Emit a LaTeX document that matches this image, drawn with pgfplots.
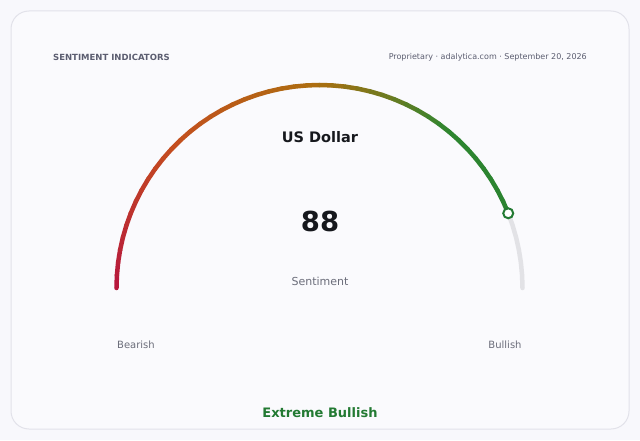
\documentclass[border=0pt]{standalone}
\usepackage{pgfplots}
\pgfplotsset{compat=1.18}
\usepackage{pgfplotstable}
\usepgfplotslibrary{polar}
\usepackage{fontspec}
\setmainfont{DejaVu Sans}

\definecolor{pagebg}{HTML}{F8F8FC}
\definecolor{cardbg}{HTML}{FAFAFD}
\definecolor{cardline}{HTML}{E2E2EA}
\definecolor{muted}{HTML}{5B5D70}
\definecolor{soft}{HTML}{6B6D7A}
\definecolor{ink}{HTML}{16181D}
\definecolor{track}{HTML}{E2E2E6}
\definecolor{bull}{HTML}{237A33}

% gauge reading: value 88 of 100, angle = 180 - 1.8*value
\pgfplotstableread{
v a r
0 180 1
2 176.4 1
4 172.8 1
6 169.2 1
8 165.6 1
10 162 1
12 158.4 1
14 154.8 1
16 151.2 1
18 147.6 1
20 144 1
22 140.4 1
24 136.8 1
26 133.2 1
28 129.6 1
30 126 1
32 122.4 1
34 118.8 1
36 115.2 1
38 111.6 1
40 108 1
42 104.4 1
44 100.8 1
46 97.2 1
48 93.6 1
50 90 1
52 86.4 1
54 82.8 1
56 79.2 1
58 75.6 1
60 72 1
62 68.4 1
64 64.8 1
66 61.2 1
68 57.6 1
70 54 1
72 50.4 1
74 46.8 1
76 43.2 1
78 39.6 1
80 36 1
82 32.4 1
84 28.8 1
86 25.2 1
88 21.6 1
}\valuearc

\pgfplotstableread{
v a r
88 21.6 1
90 18 1
92 14.4 1
94 10.8 1
96 7.2 1
98 3.6 1
100 0 1
}\restarc

\begin{document}
\begin{tikzpicture}[x=1pt,y=1pt]
  \fill[pagebg] (0,0) rectangle (640,440);
  \filldraw[fill=cardbg, draw=cardline, line width=1pt, rounded corners=18pt]
    (11,11) rectangle (629,429);

  \begin{polaraxis}[
    at={(319.5pt,152pt)}, anchor=origin,
    scale only axis, width=406pt, height=406pt,
    xmin=0, xmax=180, ymin=0, ymax=1,
    hide axis, clip=false,
    colormap={gauge}{rgb255(0cm)=(182,22,62) rgb255(2.5cm)=(196,78,30)
      rgb255(5cm)=(172,110,16) rgb255(7.2cm)=(46,134,48) rgb255(10cm)=(40,128,48)},
    point meta min=0, point meta max=100,
  ]
    \addplot[track, line width=4.5pt, line cap=round] table[x=a, y=r] {\restarc};
    \addplot[mesh, point meta=explicit, line width=4.5pt, line cap=round]
      table[x=a, y=r, meta=v] {\valuearc};
    \addplot[only marks, mark=*, mark size=5pt,
      mark options={fill=white, draw=bull, line width=2pt}]
      coordinates {(21.6,1)};
  \end{polaraxis}

  \node[anchor=west, inner sep=0pt, text=muted, font=\fontsize{8.5}{10}\selectfont\bfseries]
    at (53,383) {SENTIMENT INDICATORS};
  \node[anchor=east, inner sep=0pt, text=muted, font=\fontsize{8}{10}\selectfont]
    at (587,383) {Proprietary · adalytica.com · September 20, 2026};
  \node[text=ink, font=\fontsize{14.5}{17}\selectfont\bfseries] at (320,303) {US Dollar};
  \node[text=ink, font=\fontsize{27.5}{32}\selectfont\bfseries] at (320,219) {88};
  \node[text=soft, font=\fontsize{11}{13}\selectfont] at (320,158.5) {Sentiment};
  \node[text=soft, font=\fontsize{10}{12}\selectfont] at (136,95) {Bearish};
  \node[text=soft, font=\fontsize{10}{12}\selectfont] at (505,95) {Bullish};
  \node[text=bull, font=\fontsize{13}{15}\selectfont\bfseries] at (320,27) {Extreme Bullish};
\end{tikzpicture}
\end{document}
